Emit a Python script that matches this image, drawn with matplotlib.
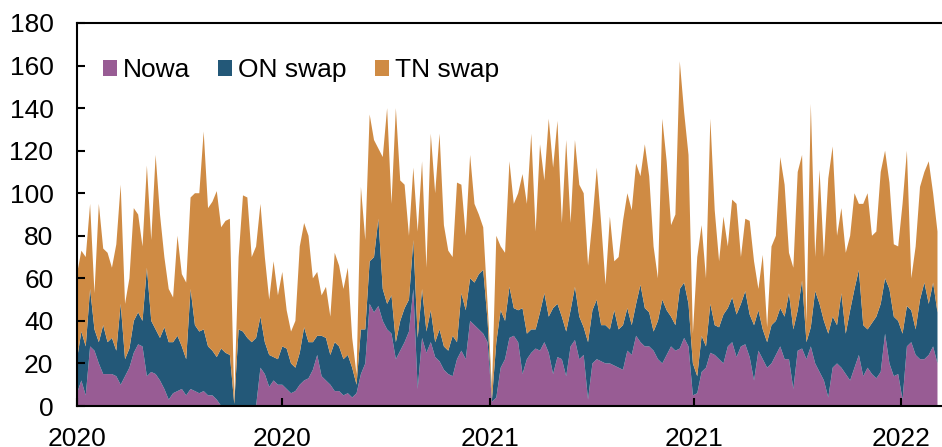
import matplotlib
matplotlib.use("Agg")
import matplotlib.pyplot as plt
import matplotlib.dates as mdates
import pandas as pd
import numpy as np

plt.rcParams['font.family'] = ['Liberation Sans', 'DejaVu Sans']

series_names = ["Nowa", "ON swap", "TN swap"]
colors = ["#985C94", "#235878", "#CF8B44"]

start_date = "2020-01-01"
end_date = "2022-02-02"

nowa = [
    6, 12, 5, 28, 26, 20, 15, 15, 15, 14, 10, 14, 18, 25, 29, 28, 14, 16, 15, 12, 8, 3,
    6, 7, 8, 5, 8, 7, 6, 7, 5, 5, 3, 0, 0, 0, 0, 0, 0, 0, 0, 0, 18, 15,
    9, 12, 10, 10, 8, 6, 7, 10, 12, 13, 17, 24, 14, 12, 10, 7, 7, 5, 6, 4, 6, 15,
    20, 48, 44, 47, 40, 36, 34, 22, 26, 30, 35, 55, 8, 32, 25, 30, 23, 21, 17, 15, 14, 22,
    26, 22, 40, 38, 36, 34, 30, 2, 4, 18, 22, 32, 33, 30, 15, 22, 25, 27, 26, 30, 25, 15,
    23, 22, 14, 28, 31, 22, 24, 3, 20, 22, 21, 20, 20, 19, 18, 17, 26, 24, 33, 30, 28, 28,
    26, 22, 20, 24, 28, 26, 27, 32, 28, 5, 6, 16, 18, 25, 24, 22, 20, 28, 30, 23, 28, 29,
    23, 12, 26, 22, 18, 20, 24, 28, 22, 22, 8, 26, 27, 22, 28, 20, 16, 12, 4, 18, 20, 18,
    15, 12, 18, 24, 14, 18, 15, 13, 16, 34, 20, 14, 15, 3, 28, 30, 24, 22, 22, 24, 28, 20,
]
on_swap = [
    16, 23, 23, 27, 10, 10, 23, 15, 17, 12, 38, 8, 9, 15, 15, 12, 51, 24, 21, 20, 29, 27,
    24, 26, 20, 17, 47, 31, 29, 29, 23, 21, 20, 27, 25, 24, 1, 36, 35, 32, 30, 32, 24, 15,
    15, 11, 12, 18, 19, 14, 11, 15, 25, 17, 13, 9, 19, 20, 14, 23, 21, 17, 18, 14, 4, 21,
    16, 20, 26, 41, 15, 12, 18, 8, 14, 16, 15, 23, 24, 23, 10, 15, 7, 15, 11, 11, 19, 8,
    27, 23, 20, 20, 26, 30, 10, 1, 26, 27, 18, 24, 13, 15, 31, 12, 11, 9, 18, 23, 17, 31,
    25, 20, 21, 17, 25, 20, 13, 27, 25, 28, 17, 18, 16, 26, 18, 21, 20, 14, 15, 27, 18, 16,
    9, 18, 30, 21, 14, 12, 28, 26, 20, 15, 8, 17, 10, 23, 14, 15, 23, 18, 21, 20, 20, 25,
    20, 26, 19, 14, 12, 18, 16, 18, 20, 31, 28, 19, 32, 8, 9, 34, 32, 28, 30, 24, 18, 35,
    19, 33, 37, 40, 24, 18, 24, 29, 32, 26, 35, 28, 25, 31, 19, 15, 12, 28, 36, 24, 30, 24,
]
tn_swap = [
    40, 38, 42, 40, 17, 65, 36, 42, 33, 50, 56, 26, 33, 53, 46, 35, 48, 38, 82, 58, 33, 25,
    21, 47, 34, 36, 43, 62, 65, 93, 65, 70, 78, 57, 62, 64, 2, 34, 64, 66, 40, 43, 53, 40,
    26, 45, 30, 35, 18, 15, 22, 50, 49, 50, 30, 30, 19, 24, 18, 42, 38, 33, 41, 14, 5, 67,
    42, 69, 55, 33, 62, 92, 43, 110, 66, 58, 30, 34, 50, 60, 30, 83, 70, 92, 57, 47, 37, 75,
    51, 35, 58, 37, 28, 20, 8, 5, 50, 30, 32, 59, 49, 55, 63, 61, 92, 46, 79, 53, 93, 66,
    86, 44, 90, 41, 69, 62, 63, 36, 42, 62, 48, 19, 53, 23, 34, 49, 54, 54, 66, 51, 77, 64,
    40, 20, 85, 70, 43, 52, 107, 80, 70, 14, 56, 52, 32, 87, 54, 31, 46, 29, 46, 52, 22, 34,
    44, 30, 10, 35, 7, 37, 40, 71, 62, 19, 29, 65, 59, 9, 105, 16, 63, 30, 73, 80, 42, 40,
    38, 35, 45, 31, 57, 64, 41, 40, 62, 60, 50, 34, 35, 61, 73, 15, 39, 53, 52, 67, 42, 38,
]

dates = pd.date_range(start_date, end_date, periods=len(nowa))

fig = plt.figure(figsize=(9.42, 4.47), dpi=100)
ax = fig.add_axes([77 / 942, 1 - 406 / 447, 1 - 77 / 942, (406 - 23) / 447])

ax.stackplot(dates, nowa, on_swap, tn_swap, labels=series_names,
             colors=colors, linewidth=0)

ax.set_ylim(0, 180)
ax.set_yticks(np.arange(0, 181, 20))
ax.set_xlim(pd.Timestamp("2020-01-01"), pd.Timestamp("2022-02-06"))
ax.xaxis.set_major_locator(mdates.MonthLocator(bymonth=[1, 7], bymonthday=1))
ax.xaxis.set_major_formatter(mdates.DateFormatter("%Y"))

ax.spines['right'].set_visible(False)
for s in ['left', 'top', 'bottom']:
    ax.spines[s].set_linewidth(1.5)
    ax.spines[s].set_color('black')

ax.tick_params(axis='y', direction='in', length=6, width=1.5, labelsize=19, pad=17)
ax.tick_params(axis='x', direction='in', length=6, width=1.5, labelsize=19, pad=15)

ax.legend(loc='center left', bbox_to_anchor=(0.03, 0.877), ncol=3, frameon=False,
          fontsize=19, handlelength=0.53, handleheight=0.53, handletextpad=0.23,
          columnspacing=1.06, borderpad=0, borderaxespad=0)

fig.savefig("out.png", dpi=100)
